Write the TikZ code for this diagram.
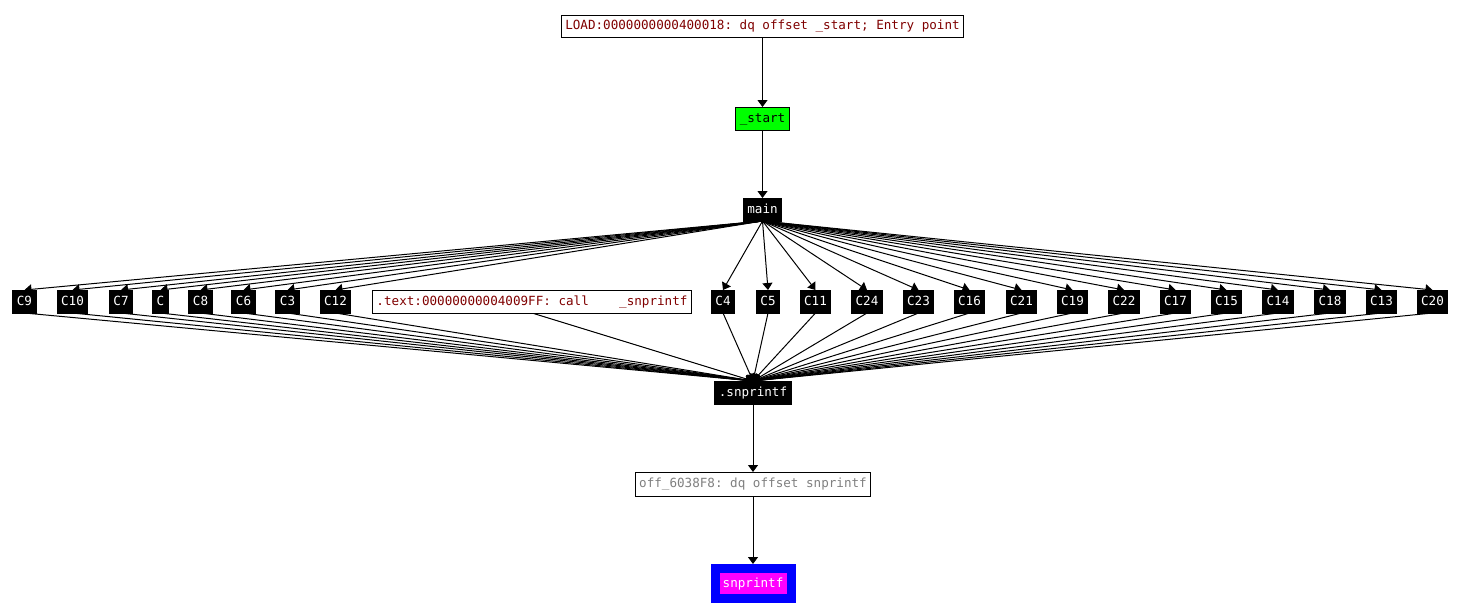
\documentclass[tikz,border=0pt]{standalone}
\usepackage{fontspec}
\setmonofont{DejaVu Sans Mono}
\usetikzlibrary{arrows.meta,backgrounds}
\definecolor{idared}{HTML}{800000}
\definecolor{idagray}{HTML}{808080}
\definecolor{idagreen}{HTML}{00FF00}
\definecolor{idamag}{HTML}{FF00FF}
\definecolor{idablue}{HTML}{0000FF}
\tikzset{
  box/.style={draw=black, line width=1pt, minimum height=23pt, inner xsep=4pt, inner ysep=0pt,
    text height=9pt, text depth=2pt,
    outer sep=0pt, font=\ttfamily\fontsize{12.6}{14}\selectfont, anchor=center},
  fn/.style={box, fill=black, text=white},
  info/.style={box, fill=white, text=idared},
  edge/.style={draw=black, line width=1pt, -{Triangle[width=10pt,length=7pt]}}
}
\begin{document}
\begin{tikzpicture}[x=1pt,y=-1pt]
\useasboundingbox (0,0) rectangle (1474,613);
\node[info, minimum height=22pt] (load) at (762.5,26) {LOAD:0000000000400018: dq offset \_start; Entry point};
\node[box, fill=idagreen, text=black] (start) at (762.5,118.5) {\_start};
\node[fn] (main) at (762.5,209.5) {main};
\foreach \n/\x in {C9/24.5, C10/72.5, C7/121, C/160.5, C8/200.5, C6/243.5, C3/287.5, C12/335.5,
  C4/723, C5/768, C11/815.5, C24/867, C23/918.5, C16/969.5, C21/1021.5, C19/1072.5, C22/1124,
  C17/1175.5, C15/1226.5, C14/1278, C18/1330, C13/1381.5, C20/1432.5}
  \node[fn] (\n) at (\x,301.5) {\n};
\node[info] (call) at (532,301.5) {.text:00000000004009FF: call\ \ \ \ \_snprintf};
\node[fn] (snp) at (753,392.5) {.snprintf};
\node[box, fill=white, text=idagray, minimum height=24pt] (off) at (753,484) {off\_6038F8: dq offset snprintf};
\node[box, draw=idablue, line width=9pt, fill=idamag, text=white, minimum width=76pt, minimum height=30pt,
  inner xsep=0pt, outer sep=4.5pt] (ext) at (753,583.5) {snprintf};
\begin{scope}[on background layer]
\draw[edge] (load.south) -- (start.north);
\draw[edge] (start.south) -- (main.north);
\foreach \n in {C9, C10, C7, C, C8, C6, C3, C12, C4, C5, C11, C24, C23, C16, C21, C19, C22,
  C17, C15, C14, C18, C13, C20}
  {\draw[edge] (main.south) -- (\n.north);
   \draw[edge] (\n.south) -- (snp.north);}
\draw[edge] (call.south) -- (snp.north);
\draw[edge] (snp.south) -- (off.north);
\draw[edge] (off.south) -- (ext.north);
\end{scope}
\end{tikzpicture}
\end{document}
